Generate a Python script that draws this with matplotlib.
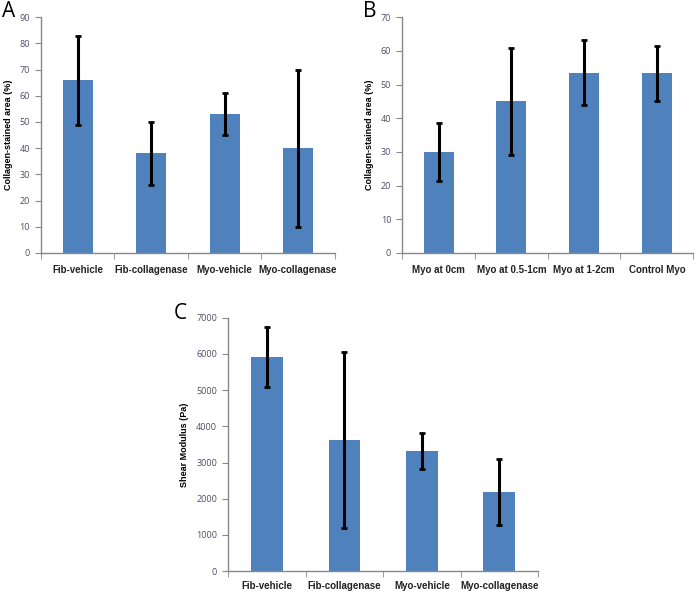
import matplotlib
matplotlib.use("Agg")
import matplotlib.pyplot as plt
import numpy as np

plt.rcParams['font.family'] = ['Open Sans', 'DejaVu Sans']

# Panel A
a_labels = ['Fib-vehicle', 'Fib-collagenase', 'Myo-vehicle', 'Myo-collagenase']
a_values = [66, 38, 53, 40]
a_errors = [17, 12, 8, 30]

# Panel B
b_labels = ['Myo at 0cm', 'Myo at 0.5-1cm', 'Myo at 1-2cm', 'Control Myo']
b_values = [30, 45, 53.5, 53.3]
b_errors = [8.5, 16, 9.7, 8.2]

# Panel C
c_labels = ['Fib-vehicle', 'Fib-collagenase', 'Myo-vehicle', 'Myo-collagenase']
c_values = [5920, 3620, 3310, 2190]
c_errors = [820, 2420, 500, 920]

bar_color = '#4F81BD'
axis_color = '#888888'
tick_color = '#4d4d66'
narrow = ['Liberation Sans Narrow', 'Liberation Sans', 'DejaVu Sans']


def draw_panel(ax, labels, values, errors, ymax, ystep, ylabel, xpad=9):
    x = np.arange(len(labels))
    ax.bar(x, values, width=0.41, color=bar_color, zorder=2)
    ax.errorbar(x, values, yerr=errors, fmt='none', ecolor='black',
                elinewidth=2.2, capsize=2.5, capthick=2, zorder=3)
    ax.set_xlim(-0.5, len(labels) - 0.5)
    ax.set_ylim(0, ymax)
    ax.set_yticks(np.arange(0, ymax + 1, ystep))
    ax.set_xticks(x)
    ax.set_xticklabels(labels, fontsize=7, fontweight='bold', color='#222222',
                       family=narrow)
    ax.set_xticks(np.arange(-0.5, len(labels)), minor=True)
    ax.tick_params(axis='x', which='major', length=0, pad=xpad)
    ax.tick_params(axis='x', which='minor', length=4, color=axis_color, direction='out')
    ax.tick_params(axis='y', length=4, color=axis_color, labelsize=6.5,
                   labelcolor=tick_color, pad=4)
    for s in ['top', 'right']:
        ax.spines[s].set_visible(False)
    for s in ['left', 'bottom']:
        ax.spines[s].set_color(axis_color)
        ax.spines[s].set_linewidth(1)
    ax.set_ylabel(ylabel, fontsize=6.5, fontweight='bold', labelpad=5, family=narrow)


fig = plt.figure(figsize=(6.96, 5.95), dpi=100)

ax_a = fig.add_axes([0.059, 0.575, 0.422, 0.396])
draw_panel(ax_a, a_labels, a_values, a_errors, 90, 10, 'Collagen-stained area (%)')

ax_b = fig.add_axes([0.578, 0.575, 0.418, 0.396])
draw_panel(ax_b, b_labels, b_values, b_errors, 70, 10, 'Collagen-stained area (%)')

ax_c = fig.add_axes([0.328, 0.040, 0.445, 0.426])
draw_panel(ax_c, c_labels, c_values, c_errors, 7000, 1000, 'Shear Modulus (Pa)', xpad=7)

fig.text(0.003, 0.972, 'A', fontsize=15)
fig.text(0.522, 0.972, 'B', fontsize=15)
fig.text(0.250, 0.464, 'C', fontsize=15)

fig.savefig('out.png', dpi=100)
